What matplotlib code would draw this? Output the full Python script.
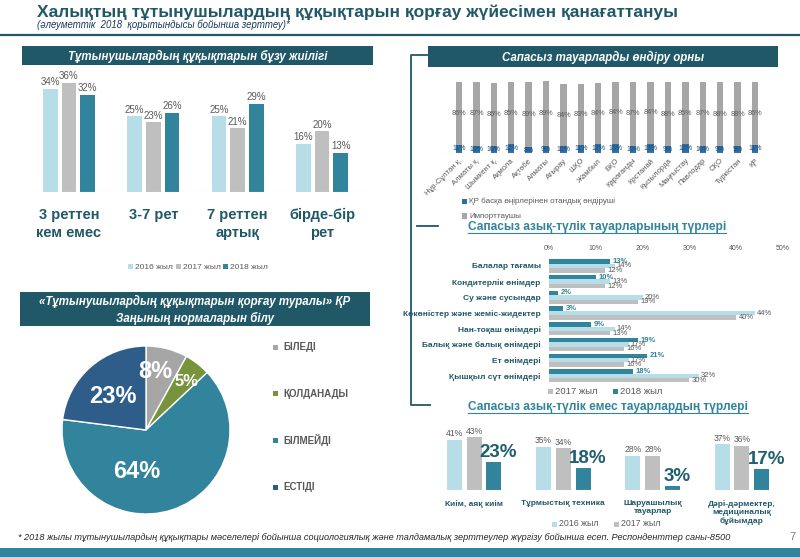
import matplotlib
matplotlib.use("Agg")
import matplotlib.pyplot as plt
from matplotlib.patches import Rectangle
from matplotlib.lines import Line2D

plt.rcParams["font.family"] = ["Liberation Sans", "DejaVu Sans"]

# ---- data ----
freq_cats = ["3 реттен\nкем емес", "3-7 рет", "7 реттен\nартық", "бірде-бір\nрет"]
freq_2016 = [34, 25, 25, 16]
freq_2017 = [36, 23, 21, 20]
freq_2018 = [32, 26, 29, 13]

pie_labels = ["БІЛЕДІ", "ҚОЛДАНАДЫ", "БІЛМЕЙДІ", "ЕСТІДІ"]
pie_vals = [8, 5, 64, 23]

regions = ["Нұр-Сұлтан қ.", "Алматы қ.", "Шымкент қ.", "Ақмола", "Ақтөбе", "Алматы",
           "Атырау", "ШҚО", "Жамбыл", "БҚО", "Қарағанды", "Қостанай", "Қызылорда",
           "Маңғыстау", "Павлодар", "СҚО", "Түркістан", "ҚР"]
importer = [86, 87, 86, 85, 89, 89, 84, 83, 84, 84, 87, 84, 88, 85, 87, 88, 88, 86]
domestic = [11, 10, 10, 12, 8, 9, 10, 11, 12, 13, 10, 13, 9, 12, 10, 9, 9, 11]

food_cats = ["Балалар тағамы", "Кондитерлік өнімдер", "Су және сусындар",
             "Көкөністер және жеміс-жидектер", "Нан-тоқаш өнімдері",
             "Балық және балық өнімдері", "Ет өнімдері", "Қышқыл сүт өнімдері"]
food_2018 = [13, 10, 2, 3, 9, 19, 21, 18]
food_2016 = [14, 13, 20, 44, 14, 17, 17, 32]
food_2017 = [12, 12, 19, 40, 13, 16, 16, 30]

nonfood_cats = ["Киім, аяқ киім", "Тұрмыстық техника", "Шаруашылық\nтауарлар",
                "Дәрі-дәрмектер,\nмедициналық\nбұйымдар"]
nonfood_2016 = [41, 35, 28, 37]
nonfood_2017 = [43, 34, 28, 36]
nonfood_2018 = [23, 18, 3, 17]

# ---- colours ----
C16 = "#b7dee8"
C17 = "#bfbfbf"
C18 = "#31849b"
DARK = "#205867"
GREY_TXT = "#595959"

W, H = 800, 557
fig = plt.figure(figsize=(8, 5.57), dpi=100)


def axes_px(x0, y0, x1, y1):
    return fig.add_axes([x0 / W, 1 - y1 / H, (x1 - x0) / W, (y1 - y0) / H])


def text_px(x, y, s, **kw):
    return fig.text(x / W, 1 - y / H, s, **kw)


def rect_px(x0, y0, x1, y1, color, **kw):
    fig.add_artist(Rectangle((x0 / W, 1 - y1 / H), (x1 - x0) / W, (y1 - y0) / H,
                             transform=fig.transFigure, facecolor=color,
                             edgecolor="none", **kw))


def line_px(xs, ys, **kw):
    fig.add_artist(Line2D([x / W for x in xs], [1 - y / H for y in ys],
                          transform=fig.transFigure, **kw))


def legend_item(x, y, color, label, size=6.5):
    rect_px(x, y - 2.5, x + 5, y + 2.5, color)
    text_px(x + 7, y, label, fontsize=size, color=GREY_TXT, va="center", ha="left")


def header_box(x0, y0, x1, y1, lines):
    rect_px(x0, y0, x1, y1, DARK)
    n = len(lines)
    step = (y1 - y0) / n
    for i, s in enumerate(lines):
        text_px((x0 + x1) / 2, y0 + step * (i + 0.5) + 0.5, s, fontsize=8.3,
                color="white", fontweight="bold", fontstyle="italic",
                ha="center", va="center")


def underlined(x, y, s, size=8.6):
    t = text_px(x, y, s, fontsize=size, color=C18, fontweight="bold",
                ha="left", va="center")
    fig.canvas.draw()
    bb = t.get_window_extent()
    line_px([bb.x0, bb.x1], [y + 6, y + 6], color=C18, lw=0.8)


# ---- title ----
text_px(37, 12, "Халықтың тұтынушылардың құқықтарын қорғау жүйесімен қанағаттануы",
        fontsize=12.5, fontweight="bold", color=DARK, va="center")
text_px(37, 25, "(әлеуметтік  2018  қорытындысы бойынша зерттеу)*",
        fontsize=6.9, fontstyle="italic", color="#17375e", va="center")
line_px([0, 800], [35, 35], color=DARK, lw=1.6)

# ---- frequency of violations ----
header_box(22, 46, 373, 65, ["Тұтынушылардың құқықтарын бұзу жиілігі"])
ax1 = axes_px(22, 70, 373, 192)
pos = range(len(freq_cats))
bw, off = 0.172, 0.222
for vals, col, d in ((freq_2016, C16, -off), (freq_2017, C17, 0), (freq_2018, C18, off)):
    bars = ax1.bar([p + d for p in pos], vals, width=bw, color=col)
    for b, v in zip(bars, vals):
        ax1.text(b.get_x() + bw / 2, v + 0.6, f"{v}%", ha="center", va="bottom",
                 fontsize=7, color=GREY_TXT)
ax1.set_xlim(-0.557, 3.605)
ax1.set_ylim(0, 40.3)
ax1.axis("off")
ax1.axhline(0, xmin=0.02, xmax=0.98, color="#e6e6e6", lw=0.8)
for p, cat in zip(pos, freq_cats):
    for k, part in enumerate(cat.split("\n")):
        ax1.annotate(part, (p, 0), xytext=(0, -23 * 0.72 - k * 18 * 0.72),
                     textcoords="offset points", ha="center", va="center",
                     fontsize=10.5, fontweight="bold", color=DARK)
legend_item(128, 267, C16, "2016 жыл", 6)
legend_item(176, 267, C17, "2017 жыл", 6)
legend_item(223, 267, C18, "2018 жыл", 6)

# ---- pie ----
header_box(20, 292, 370, 326, ["«Тұтынушылардың құқықтарын қорғау туралы» ҚР",
                               "Заңының нормаларын білу"])
ax2 = axes_px(62, 346, 230, 514)
pie_cols = ["#a6a6a6", "#77933c", "#31849b", "#2f5d8a"]
ax2.pie(pie_vals, colors=pie_cols, startangle=90, counterclock=False,
        wedgeprops=dict(edgecolor="white", linewidth=1))
ax2.set_xlim(-1, 1)
ax2.set_ylim(-1, 1)
ax2.set_aspect("equal")
lab_xy = [(0.11, 0.70), (0.48, 0.58), (-0.11, -0.50), (-0.39, 0.40)]
lab_sz = [17, 12, 17, 17]
for v, (lx, ly), sz in zip(pie_vals, lab_xy, lab_sz):
    ax2.text(lx, ly, f"{v}%", ha="center", va="center", fontsize=sz,
             fontweight="bold", color="white")
for i, (lab, col) in enumerate(zip(pie_labels, pie_cols)):
    y = 347 + i * 46.7
    rect_px(273, y - 2.5, 278, y + 2.5, col)
    text_px(283, y, lab, fontsize=7, fontweight="bold", color=GREY_TXT, va="center")

# ---- bracket line on the right ----
line_px([428, 411, 411, 430], [55, 55, 405, 405], color=DARK, lw=1.3)
line_px([417, 438], [226, 226], color=DARK, lw=1.3)

# ---- place of production ----
header_box(428, 46, 778, 67, ["Сапасыз тауарларды өндіру орны"])
ax3 = axes_px(440, 78, 775, 153)
rp = range(len(regions))
sw = 0.37
ax3.bar(rp, domestic, width=sw, color="#2f6ea5")
ax3.bar(rp, importer, width=sw, bottom=domestic, color="#a6a6a6")
for i in rp:
    ax3.text(i, domestic[i] + importer[i] / 2, f"{importer[i]}%", ha="center",
             va="center", fontsize=5.2, color=GREY_TXT)
    ax3.text(i, domestic[i] / 2, f"{domestic[i]}%", ha="center", va="center",
             fontsize=5, color="#1f4e79")
ax3.set_xlim(-1.09, 18.15)
ax3.set_ylim(0, 102.7)
for s in ax3.spines.values():
    s.set_visible(False)
ax3.axhline(0, color="#e0e0e0", lw=0.8)
ax3.set_yticks([])
ax3.set_xticks(list(rp))
ax3.set_xticklabels(regions, rotation=45, ha="right", rotation_mode="anchor",
                    fontsize=5.5, color=GREY_TXT)
ax3.tick_params(axis="x", length=0, pad=3)
legend_item(462, 201, "#2f6ea5", "ҚР басқа өңірлерінен отандық өндіруші", 5.8)
legend_item(462, 216, "#a6a6a6", "Импорттаушы", 5.8)

# ---- food products ----
underlined(468, 227, "Сапасыз азық-түлік тауарларының түрлері")
ax4 = axes_px(549, 255, 783, 385)
fp = list(range(len(food_cats)))
bh = 0.28
for vals, col, d, tc, fw in ((food_2018, C18, -bh, C18, "bold"),
                             (food_2016, C16, 0, GREY_TXT, "normal"),
                             (food_2017, C17, bh, GREY_TXT, "normal")):
    ax4.barh([p + d for p in fp], vals, height=bh, color=col)
    for p, v in zip(fp, vals):
        ax4.text(v + 0.5, p + d, f"{v}%", ha="left", va="center", fontsize=5.5,
                 color=tc, fontweight=fw)
ax4.set_xlim(0, 50)
ax4.set_ylim(7.58, -0.7)
for s in ax4.spines.values():
    s.set_visible(False)
ax4.xaxis.tick_top()
ax4.set_xticks(range(0, 51, 10))
ax4.set_xticklabels([f"{t}%" for t in range(0, 51, 10)], fontsize=5, color=GREY_TXT)
ax4.set_yticks(fp)
ax4.set_yticklabels(food_cats, fontsize=6, fontweight="bold", color=DARK)
ax4.tick_params(length=0)
ax4.tick_params(axis="x", pad=2)
ax4.tick_params(axis="y", pad=6)
legend_item(548, 391, C17, "2017 жыл", 6.8)
legend_item(613, 391, C18, "2018 жыл", 6.8)

# ---- non-food products ----
underlined(468, 407, "Сапасыз азық-түлік емес тауарлардың түрлері")
ax5 = axes_px(430, 428, 780, 490)
npos = range(len(nonfood_cats))
nw = 0.168
for vals, col, d, big in ((nonfood_2016, C16, -off, False), (nonfood_2017, C17, 0, False),
                          (nonfood_2018, C18, off, True)):
    bars = ax5.bar([p + d for p in npos], vals, width=nw, color=col)
    for b, v in zip(bars, vals):
        if big:
            ax5.text(b.get_x() + nw / 2 + 0.05, v + 0.8, f"{v}%", ha="center",
                     va="bottom", fontsize=13.5, fontweight="bold", color="#215f70")
        else:
            ax5.text(b.get_x() + nw / 2, v + 1.2, f"{v}%", ha="center", va="bottom",
                     fontsize=6.2, color=GREY_TXT)
ax5.set_xlim(-0.493, 3.426)
ax5.set_ylim(0, 50.4)
ax5.axis("off")
ax5.axhline(0, xmin=0.02, xmax=0.98, color="#e6e6e6", lw=0.8)
for p, cat in zip(npos, nonfood_cats):
    ax5.annotate(cat, (p, 0), xytext=(0, -7), textcoords="offset points",
                 ha="center", va="top", fontsize=6, fontweight="bold", color=DARK,
                 linespacing=1.25)
legend_item(552, 524, C16, "2016 жыл", 6.3)
legend_item(614, 524, C17, "2017 жыл", 6.3)

# ---- footnote and band ----
text_px(18, 537, "* 2018 жылы тұтынушылардың құқықтары мәселелері бойынша социологиялық және "
        "талдамалық зерттеулер жүргізу бойынша есеп. Респонденттер саны-8500",
        fontsize=6.6, fontstyle="italic", color="#262626", va="center")
text_px(792, 537, "7", fontsize=8, color="#7f7f7f", va="center", ha="center")
rect_px(0, 548, 800, 557, "#31849b")

fig.savefig("out.png", dpi=100)
